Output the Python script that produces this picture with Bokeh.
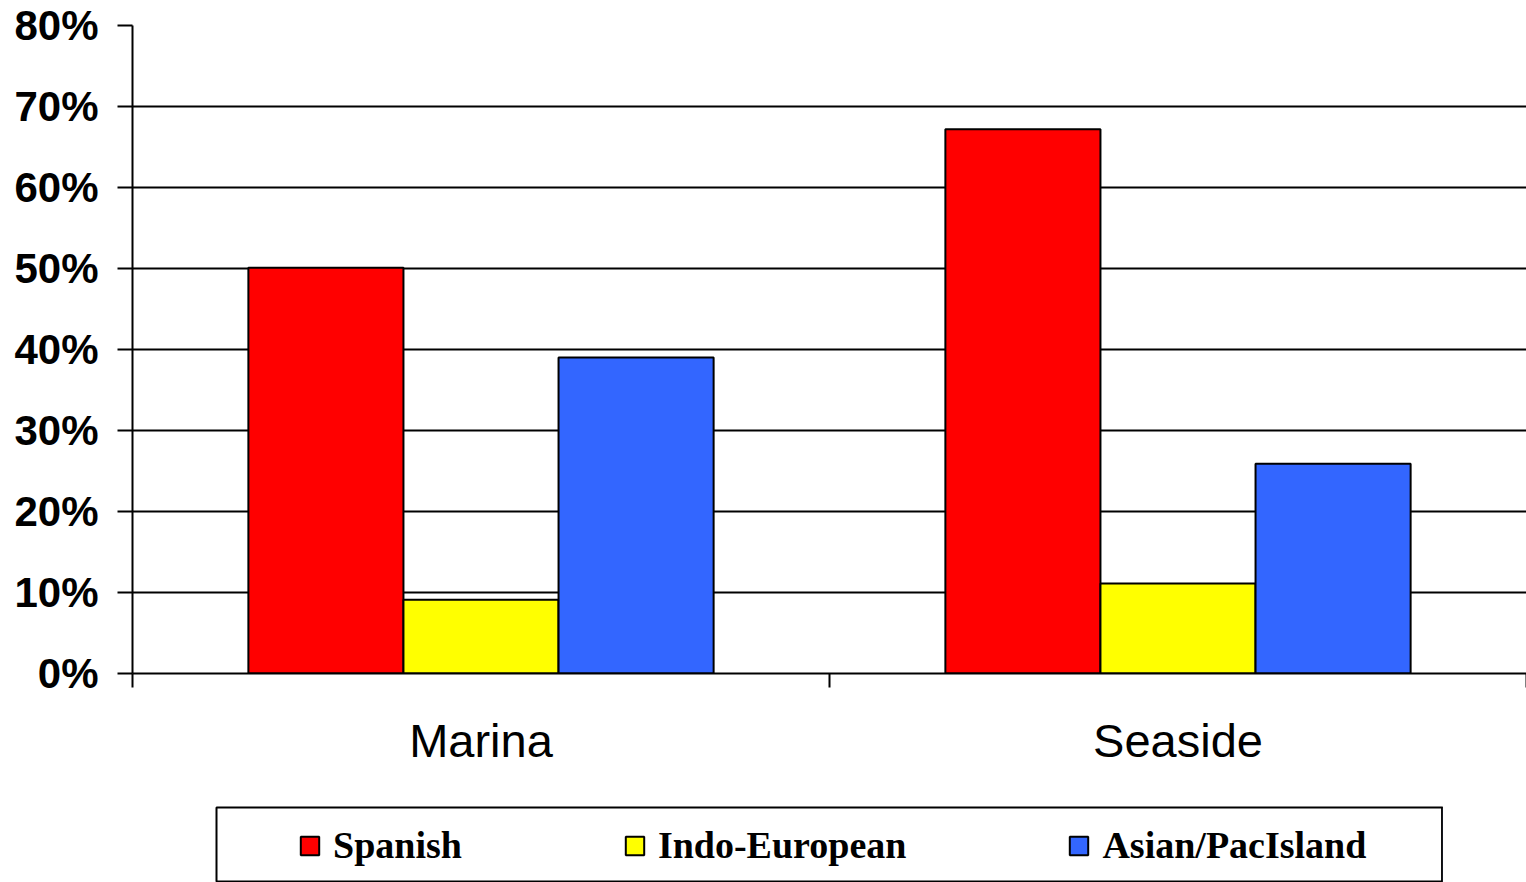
from bokeh.plotting import figure
from bokeh.models import (ColumnDataSource, Range1d, FixedTicker, PrintfTickFormatter,
                          Legend, LegendItem, Spacer)
from bokeh.layouts import column, row
from bokeh.embed import file_html
from bokeh.resources import INLINE

# ---- data ----
categories = ["Marina", "Seaside"]
series = ["Spanish", "Indo-European", "Asian/PacIsland"]
colors = ["#FF0000", "#FFFF00", "#3366FF"]
spanish = [50.1, 67.2]
indo_european = [9.1, 11.1]
asian_pacisland = [39.0, 25.9]
y_ticks = [0, 10, 20, 30, 40, 50, 60, 70, 80]

values = [spanish, indo_european, asian_pacisland]
bar_w = 0.2225
offsets = [-bar_w, 0.0, bar_w]
centers = [i + 0.5 for i in range(len(categories))]

p = figure(width=1526, height=806, output_backend="svg", toolbar_location=None,
           x_range=Range1d(0, len(categories)), y_range=Range1d(0, 80),
           min_border_left=132, min_border_right=0, min_border_top=25, min_border_bottom=133)
p.outline_line_color = None
p.background_fill_color = "white"
p.border_fill_color = "white"

for name, vals, off, col in zip(series, values, offsets, colors):
    src = ColumnDataSource(dict(x=[c + off for c in centers], top=vals))
    p.vbar(x="x", top="top", width=bar_w, bottom=0, source=src,
           fill_color=col, line_color="black", line_width=2)

# y axis
p.yaxis.ticker = FixedTicker(ticks=y_ticks)
p.yaxis.formatter = PrintfTickFormatter(format="%d%%")
p.yaxis.major_label_text_font = "Liberation Sans"
p.yaxis.major_label_text_font_style = "bold"
p.yaxis.major_label_text_font_size = "42px"
p.yaxis.major_label_text_color = "black"
p.yaxis.major_tick_out = 15
p.yaxis.major_tick_in = 0
p.yaxis.minor_tick_out = 0
p.yaxis.minor_tick_in = 0
p.yaxis.major_label_standoff = 19
p.yaxis.axis_line_width = 2
p.yaxis.major_tick_line_width = 2
p.yaxis.axis_line_color = "black"
p.yaxis.major_tick_line_color = "black"

# x axis: labels at category centers, ticks at category boundaries
p.xaxis.ticker = FixedTicker(ticks=centers, minor_ticks=list(range(len(categories) + 1)))
p.xaxis.major_label_overrides = {c: cat for c, cat in zip(centers, categories)}
p.xaxis.major_tick_out = 0
p.xaxis.major_tick_in = 0
p.xaxis.minor_tick_out = 14
p.xaxis.minor_tick_in = 0
p.xaxis.minor_tick_line_width = 2
p.xaxis.minor_tick_line_color = "black"
p.xaxis.major_label_standoff = 26
p.xaxis.major_label_text_font = "Liberation Sans"
p.xaxis.major_label_text_font_size = "47px"
p.xaxis.major_label_text_color = "black"
p.xaxis.axis_line_width = 2
p.xaxis.axis_line_color = "black"

p.xgrid.grid_line_color = None
p.ygrid.ticker = FixedTicker(ticks=y_ticks)
p.ygrid.grid_line_color = "black"
p.ygrid.grid_line_width = 2

# legend box as its own small figure
lg = figure(width=1228, height=76, output_backend="svg", toolbar_location=None,
            x_range=Range1d(0, 1), y_range=Range1d(0, 1),
            min_border_left=1, min_border_right=1, min_border_top=1, min_border_bottom=0)
lg.xaxis.visible = False
lg.yaxis.visible = False
lg.grid.visible = False
lg.outline_line_color = "black"
lg.outline_line_width = 2
items = []
for name, col in zip(series, colors):
    # swatch renderer kept outside the visible range: only its legend glyph shows
    r = lg.vbar(x=[5], top=[1], width=0.1, fill_color=col, line_color="black", line_width=2)
    items.append(LegendItem(label=name, renderers=[r]))
legend = Legend(items=items, orientation="horizontal", location=(82, 15),
                padding=0, margin=0, spacing=161, label_standoff=12,
                glyph_width=23, glyph_height=23,
                label_text_font="Liberation Serif", label_text_font_style="bold",
                label_text_font_size="38px", label_text_color="black",
                border_line_color=None, background_fill_alpha=0)
lg.add_layout(legend, "center")

layout = column(p, row(Spacer(width=215, height=76), lg), spacing=0)

open("out.html", "w").write(file_html(layout, INLINE))
